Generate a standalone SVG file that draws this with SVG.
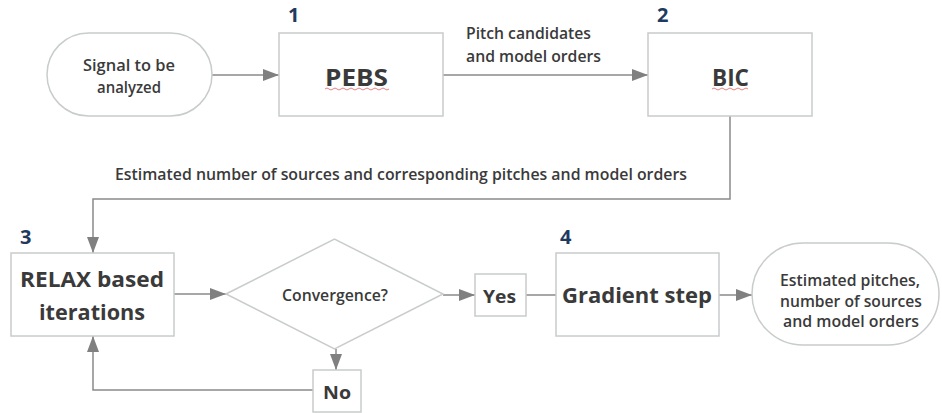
<svg xmlns="http://www.w3.org/2000/svg" width="942" height="413" viewBox="0 0 942 413">
<style>
.box{fill:#fff;stroke:#c9cccc;stroke-width:1.5}
.t{font-family:"Open Sans","Liberation Sans",sans-serif;font-weight:600;fill:#3a3a3a;text-anchor:middle}
.s14{font-size:15.5px}
.big{font-size:22px;font-weight:700}
.num{font-family:"Open Sans","Liberation Sans",sans-serif;font-weight:700;font-size:20px;fill:#1f3a5f}
.c{fill:none;stroke:#8a8a8a;stroke-width:1.5}
.sq{fill:none;stroke:#e06060;stroke-width:0.8}
</style>
<defs>
<marker id="ah" markerWidth="16" markerHeight="12" refX="16" refY="6" orient="auto" markerUnits="userSpaceOnUse">
<path d="M0,0 L16,6 L0,12 Z" fill="#808080"/>
</marker>
</defs>
<rect width="942" height="413" fill="#fff"/>
<g id="connectors">
<path class="c" d="M212,75 H279" marker-end="url(#ah)"/>
<path class="c" d="M443,75 H648" marker-end="url(#ah)"/>
<path class="c" d="M730,116 V199 H93 V253" marker-end="url(#ah)"/>
<path class="c" d="M174,294 H226" marker-end="url(#ah)"/>
<path class="c" d="M336,349 V370" marker-end="url(#ah)"/>
<path class="c" d="M313,390 H93 V336" marker-end="url(#ah)"/>
<path class="c" d="M443,295 H475" marker-end="url(#ah)"/>
<path class="c" d="M526,295 H556"/>
<path class="c" d="M719,295 H752" marker-end="url(#ah)"/>
</g>
<g id="labels">
<text class="t s14" x="528.5" y="39" textLength="125" lengthAdjust="spacingAndGlyphs">Pitch candidates</text>
<text class="t s14" x="533.5" y="62" textLength="135" lengthAdjust="spacingAndGlyphs">and model orders</text>
<text class="t s14" x="401" y="180" textLength="572" lengthAdjust="spacingAndGlyphs">Estimated number of sources and corresponding pitches and model orders</text>
</g>
<g id="signal">
<rect class="box" x="47" y="33" width="165" height="83" rx="41.5"/>
<text class="t s14" x="129" y="71" textLength="92" lengthAdjust="spacingAndGlyphs">Signal to be</text>
<text class="t s14" x="129" y="93" textLength="64" lengthAdjust="spacingAndGlyphs">analyzed</text>
</g>
<g id="pebs">
<rect class="box" x="279" y="33" width="164" height="83"/>
<text class="num" x="288" y="22">1</text>
<text class="t" style="font-size:23px;font-weight:700" x="356.5" y="86" textLength="63" lengthAdjust="spacingAndGlyphs">PEBS</text>
<path class="sq" d="M325,89 q2,-2 4,0 t4,0 t4,0 t4,0 t4,0 t4,0 t4,0 t4,0 t4,0 t4,0 t4,0 t4,0 t4,0 t4,0 t4,0 t4,0"/>
</g>
<g id="bic">
<rect class="box" x="648" y="33" width="164" height="83"/>
<text class="num" x="657" y="22">2</text>
<text class="t" style="font-size:23px;font-weight:700" x="730.5" y="86" textLength="37" lengthAdjust="spacingAndGlyphs">BIC</text>
<path class="sq" d="M712,89 q2,-2 4,0 t4,0 t4,0 t4,0 t4,0 t4,0 t4,0 t4,0 t4,0"/>
</g>
<g id="relax">
<rect class="box" x="11" y="253" width="163" height="83"/>
<text class="num" x="20" y="244">3</text>
<text class="t big" x="92" y="287" textLength="144" lengthAdjust="spacingAndGlyphs">RELAX based</text>
<text class="t big" x="92" y="320" textLength="106" lengthAdjust="spacingAndGlyphs">iterations</text>
</g>
<g id="convergence">
<polygon class="box" points="226,294 334.5,239 443,294 334.5,349"/>
<text class="t" style="font-size:16px" x="335" y="301" textLength="106" lengthAdjust="spacingAndGlyphs">Convergence?</text>
</g>
<g id="no">
<rect class="box" x="313" y="370" width="48" height="42"/>
<text class="t" style="font-size:18px;font-weight:700" x="337" y="399" textLength="28" lengthAdjust="spacingAndGlyphs">No</text>
</g>
<g id="yes">
<rect class="box" x="475" y="274" width="51" height="42"/>
<text class="t" style="font-size:18px;font-weight:700" x="499.5" y="303" textLength="33" lengthAdjust="spacingAndGlyphs">Yes</text>
</g>
<g id="gradient">
<rect class="box" x="556" y="253" width="163" height="83"/>
<text class="num" x="560" y="244">4</text>
<text class="t big" x="637" y="303" textLength="150" lengthAdjust="spacingAndGlyphs">Gradient step</text>
</g>
<g id="output">
<rect class="box" x="752" y="243" width="187" height="102" rx="51"/>
<text class="t s14" x="850" y="286" textLength="140" lengthAdjust="spacingAndGlyphs">Estimated pitches,</text>
<text class="t s14" x="851" y="307" textLength="142" lengthAdjust="spacingAndGlyphs">number of sources</text>
<text class="t s14" x="851" y="327" textLength="136" lengthAdjust="spacingAndGlyphs">and model orders</text>
</g>
</svg>
